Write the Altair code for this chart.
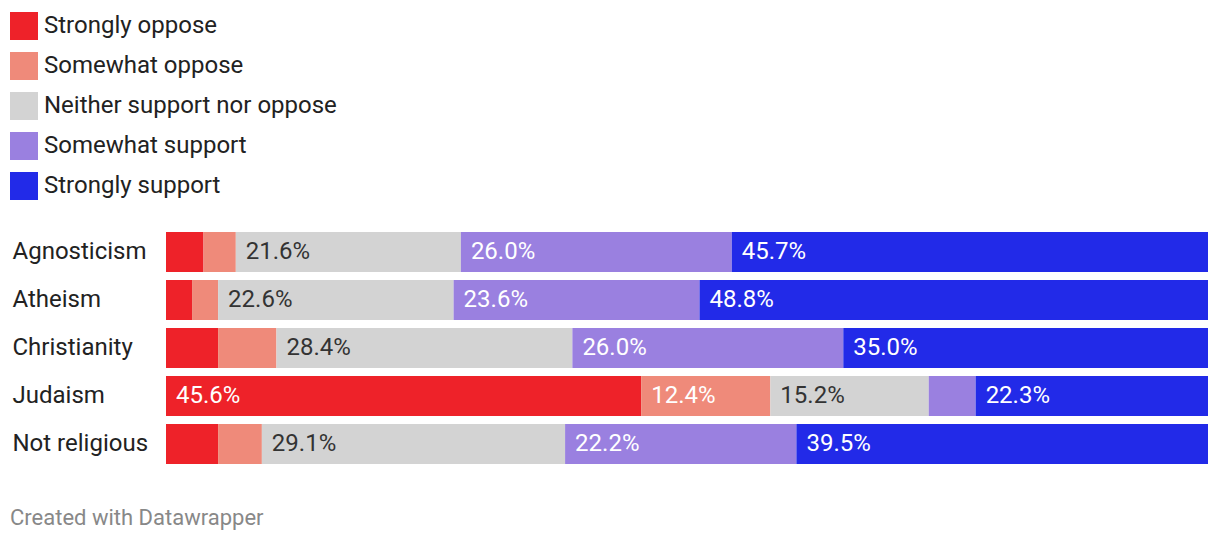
import altair as alt
import pandas as pd

religions = ["Agnosticism", "Atheism", "Christianity", "Judaism", "Not religious"]
responses = ["Strongly oppose", "Somewhat oppose", "Neither support nor oppose",
             "Somewhat support", "Strongly support"]
colors = ["#ee2229", "#ef8a7a", "#d3d3d3", "#9a80e0", "#222ae8"]

strongly_oppose = [3.6, 2.5, 5.0, 45.6, 5.0]
somewhat_oppose = [3.1, 2.5, 5.6, 12.4, 4.2]
neither = [21.6, 22.6, 28.4, 15.2, 29.1]
somewhat_support = [26.0, 23.6, 26.0, 4.5, 22.2]
strongly_support = [45.7, 48.8, 35.0, 22.3, 39.5]

series = [strongly_oppose, somewhat_oppose, neither, somewhat_support, strongly_support]
rows = []
for ri, r in enumerate(religions):
    for si, s in enumerate(responses):
        rows.append({"religion": r, "response": s, "order": si, "value": series[si][ri]})
df = pd.DataFrame(rows)

FONT = "Roboto"

base = alt.Chart(df).transform_stack(
    stack="value", groupby=["religion"], as_=["v0", "v1"],
    sort=[alt.SortField("order", order="ascending")]
)

yenc = alt.Y("religion:N", sort=religions, title=None,
             scale=alt.Scale(paddingInner=8 / 48, paddingOuter=4 / 48),
             axis=alt.Axis(domain=False, ticks=False, grid=False, labelAlign="left",
                           labelPadding=154, labelFontSize=24, labelFont=FONT,
                           labelColor="#222222"))

bars = base.mark_bar(strokeWidth=0).encode(
    x=alt.X("v0:Q", scale=alt.Scale(domain=[0, 100]), axis=None),
    x2="v1:Q",
    y=yenc,
    color=alt.Color("response:N", sort=responses,
                    scale=alt.Scale(domain=responses, range=colors),
                    legend=alt.Legend(title=None, orient="none", legendX=-156, legendY=-216,
                                      symbolType="square", symbolSize=784, symbolStrokeWidth=0,
                                      symbolOpacity=1,
                                      labelFontSize=24, labelFont=FONT, labelColor="#222222",
                                      labelOffset=6, rowPadding=12, padding=0,
                                      labelLimit=500)),
)

labels = base.transform_filter("datum.value >= 10").transform_calculate(
    lbl="format(datum.value, '.1f') + '%'"
).mark_text(align="left", baseline="middle", dx=10, fontSize=24, font=FONT).encode(
    x=alt.X("v0:Q", scale=alt.Scale(domain=[0, 100]), axis=None),
    y=alt.Y("religion:N", sort=religions),
    text="lbl:N",
    color=alt.condition("datum.order == 2", alt.value("#333333"), alt.value("#ffffff")),
)

footer = alt.Chart(pd.DataFrame({"t": ["Created with Datawrapper"]})).mark_text(
    align="left", baseline="middle", fontSize=22, font=FONT, color="#888888"
).encode(x=alt.value(-156), y=alt.value(290), text="t:N")

chart = alt.layer(bars, labels, footer).properties(
    width=1042, height=240,
    padding={"left": 158, "top": 220, "right": 4, "bottom": 70},
    autosize=alt.AutoSizeParams(type="none"),
).configure(font=FONT).configure_view(stroke="transparent", strokeWidth=0).configure_axis(
    grid=False, domain=False
)

chart.save("out.html", embed_options={"renderer": "svg", "actions": False})
